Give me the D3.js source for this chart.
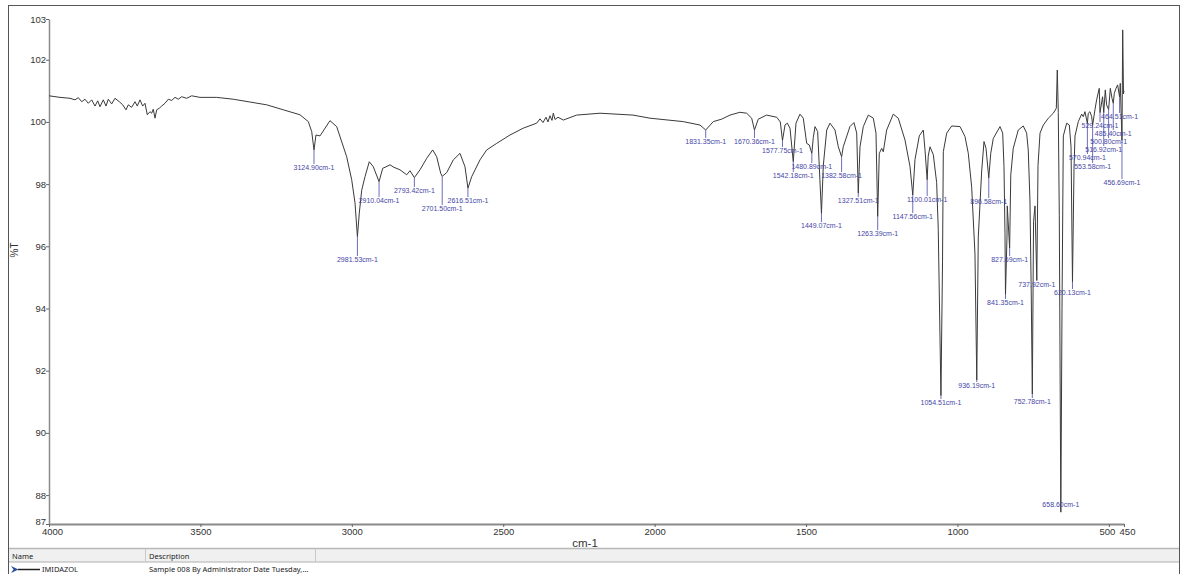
<!DOCTYPE html>
<html><head><meta charset="utf-8">
<script src="https://cdn.jsdelivr.net/npm/d3@7"></script>
<style>html,body{margin:0;padding:0;background:#fff;} svg{display:block;}</style>
</head><body><svg id="c" width="1182" height="574"></svg>
<script>
// ---------------- DATA ----------------
const specWn = [4000,3963.7,3930.7,3914.2,3903.2,3892,3881.1,3870.2,3859,3848.1,3839.2,3831.6,3820.7,3811.8,3804.2,3793,3782.1,3767.9,3756.6,3745.7,3738.1,3727.1,3716,3708.4,3699.5,3690.6,3683,3675.4,3666.5,3660.9,3655.6,3650,3644.3,3635.8,3627.8,3616.9,3606,3594.8,3583.9,3573,3561.8,3545.3,3528.8,3501.4,3446.2,3391.4,3336.3,3281.1,3226.3,3171.2,3143.7,3132.5,
3118.3,3105.1,3072.1,3050,3016.9,3000.4,2989.5,2975.3,2967.4,2956.5,2942.3,2929.1,2898,2890.4,2873.9,2860.7,2840.9,2818.8,2807.9,2774.8,2752.7,2732.9,2719.7,2706.5,2686.7,2664.9,2642.8,2626.3,2604.1,2576.7,2554.6,2521.6,2477.6,2433.7,2389.5,2378.6,2368.7,2358.8,2352.2,2345.6,2339,2334.6,2329,2319.1,2301.6,2257.4,2180.4,2071.5,2015.3,1905.4,1850.2,
1806.3,1778.6,1751.2,1718.2,1696,1679.5,1657.7,1629.9,1596.9,1585,1569.5,1561.9,1553,1533.2,1520,1509.1,1497.9,1489.3,1476,1470.4,1461.6,1443,1431.7,1420.9,1404.4,1393.4,1377.1,1355,1341.8,1332.7,1321.8,1310.9,1294.4,1277.9,1269,1258.1,1250.2,1244.9,1233.7,1211.9,1195.4,1173.3,1156.8,1140.2,1126,1112.8,1107.2,1096.5,1090.7,1079.8,1068.7,1063.4,
1049.3,1046.7,1035.5,1019,991.6,975.1,964.2,953,942.1,931.2,920,912.3,905.7,890,881.6,859.5,850.6,846.3,843,836.4,835.5,823.9,815.7,799.2,782.7,771.5,766.2,760.6,756.3,748.7,743.9,734,727.3,716.4,699.9,683.4,673.5,670.3,667,663.7,654.7,650.4,639.2,630.5,624.9,615.1,611.8,600.9,589.8,584.5,578.9,568,562.4,556.8,546,540.4,531.8,520.7,511.8,507.5,495.2,489.6,482,476.4,471.1,462.3,454.3,451.7,450];
const specT = [100.84,100.79,100.76,100.71,100.78,100.65,100.73,100.6,100.71,100.51,100.68,100.49,100.71,100.51,100.73,100.58,100.76,100.65,100.55,100.39,100.55,100.47,100.65,100.51,100.71,100.51,100.6,100.23,100.33,100.28,100.41,100.12,100.39,100.44,100.51,100.6,100.73,100.69,100.79,100.73,100.81,100.76,100.84,100.79,100.79,100.73,100.64,100.55,100.39,100.23,100.01,99.69,
99.58,99.55,100.04,99.85,98.88,98.14,97.4,97.07,97.8,98.24,98.72,98.56,98.51,98.54,98.62,98.54,98.46,98.3,98.43,98.46,98.83,99.1,98.88,98.35,98.37,98.78,98.99,98.56,98.24,98.78,99.1,99.31,99.58,99.8,99.96,100.1,99.98,100.15,100.0,100.2,100.05,100.28,100.08,100.15,100.06,100.22,100.28,100.22,100.12,100.01,99.9,
100.01,100.09,100.22,100.31,100.28,100.12,100.09,100.22,100.15,100.0,99.9,99.96,99.8,99.96,100.25,100.12,99.31,99.26,99.5,99.85,99.69,98.6,99.74,99.96,99.74,99.2,99.2,99.85,99.98,99.64,99.2,99.85,100.22,100.12,99.64,98.99,99.15,99.04,99.74,100.25,100.12,99.42,98.57,98.79,99.55,99.74,99.1,98.9,99.2,98.95,98.05,96.55,
95.5,99.04,99.64,99.87,99.85,99.53,98.99,97.9,95.75,96.3,98.42,99.37,99.15,98.99,99.47,99.85,99.64,98.57,96.42,96.3,97.3,98.3,99.15,99.74,99.87,99.64,99.1,97.49,94.5,96.8,97.3,98.6,99.64,99.9,100.12,100.28,100.44,101.67,100.3,97,94,99.55,99.96,99.9,99.2,98.5,99.55,100.01,100.25,100.17,100.33,100.28,100.33,100.17,100.39,100.71,101.08,100.81,101.03,100.55,101.08,100.76,100.92,101.08,101.19,101.24,102.96,100.9,101.0];

const peakWn = [3124.90,2981.53,2910.04,2793.42,2701.50,2616.51,1831.35,1670.36,1577.75,1542.18,1480.89,1449.07,1382.58,1327.51,1263.39,1147.56,1100.01,1054.51,936.19,896.58,841.35,827.69,752.78,737.92,658.60,620.13,570.94,553.58,529.24,516.92,500.80,485.40,464.51,456.69];
const peakT  = [99.1,96.31,98.08,98.21,98.25,97.87,99.74,99.74,99.4,98.72,98.99,97.06,98.88,97.71,96.96,97.65,98.14,91.2,91.7,98.2,94.45,95.95,91.25,94.9,87.45,94.86,99.95,99.9,100.3,100.3,100.4,100.6,100.8,99.4];

const xDomain = [4000, 450];
const yDomain = [87.07, 103.31];
const xTicks = [4000,3500,3000,2500,2000,1500,1000,500,450];
const yTicks = [88,90,92,94,96,98,100,102];
const xTitle = "cm-1";
const yTitle = "%T";
const legendHeaders = ["Name","Description"];
const legendName = "IMIDAZOL";
const legendDesc = "Sample 008 By Administrator Date Tuesday,...";

// ---------------- LAYOUT ----------------
const plot = {left:49, right:1124, top:19, bottom:524};
const labelY = [168,260,201,191,209,201,142,142,151,176,167,226,176,201,234,217,200,403,386,202,303,260,402,285,505,293,158,167,126,150,142,134,117,183];
const labelColor = "#4646a6";

const svg = d3.select("#c");
const x = d3.scaleLinear().domain(xDomain).range([plot.left, plot.right]);
const y = d3.scaleLinear().domain(yDomain).range([plot.bottom, plot.top]);

// outer frame
svg.append("rect").attr("x",8.5).attr("y",5.5).attr("width",1171).attr("height",600)
  .attr("fill","none").attr("stroke","#555").attr("stroke-width",1);

// axes
const fontAx = "'Liberation Sans', Arial, sans-serif";
const gx = svg.append("g").attr("transform",`translate(0,${plot.bottom})`)
  .call(d3.axisBottom(x).tickValues(xTicks).tickSizeInner(3).tickSizeOuter(0).tickFormat(d3.format("d")));
const yTickAll = [yDomain[0]].concat(yTicks, [yDomain[1]]);
const gy = svg.append("g").attr("transform",`translate(${plot.left},0)`)
  .call(d3.axisLeft(y).tickValues(yTickAll).tickSizeInner(3).tickSizeOuter(0).tickFormat(d3.format(".0f")));
[gx,gy].forEach(g=>{
  g.selectAll("text").attr("font-family",fontAx).attr("font-size","9.5px").attr("fill","#333");
  g.selectAll(".tick line").attr("stroke","#666");
});
gx.select(".domain").attr("stroke","#8a8a8a").attr("stroke-width",2);
gy.select(".domain").attr("stroke","#8a8a8a").attr("stroke-width",1.5);
gx.selectAll("text").attr("dy","0.5em")
  .attr("dx", d => d === xDomain[0] ? 3 : d === 500 ? -2 : d === 450 ? 3 : 0);
gy.selectAll("text").attr("x",-3)
  .attr("dy", d => d === yDomain[0] ? "0.05em" : "0.32em");

svg.append("text").attr("x",585).attr("y",547).attr("text-anchor","middle")
  .attr("font-family",fontAx).attr("font-size","11.5px").attr("fill","#333").text(xTitle);
svg.append("text").attr("transform","translate(18,250) rotate(-90)").attr("text-anchor","middle")
  .attr("font-family",fontAx).attr("font-size","10px").attr("fill","#333").text(yTitle);

// spectrum
const pts = specWn.map((w,i)=>({wn:w,t:specT[i]}))
  .concat(peakWn.map((w,i)=>({wn:w,t:peakT[i]})))
  .sort((a,b)=>b.wn-a.wn);
svg.append("path").datum(pts)
  .attr("d", d3.line().x(d=>x(d.wn)).y(d=>y(d.t)))
  .attr("fill","none").attr("stroke","#3a3a3a").attr("stroke-width",1).attr("stroke-linejoin","round");

// peak labels
const pk = svg.append("g");
peakWn.forEach((w,i)=>{
  const px = x(w), py = y(peakT[i]), ly = labelY[i];
  if (ly - 5 > py) {
    pk.append("line").attr("x1",px).attr("x2",px).attr("y1",py).attr("y2",ly-4)
      .attr("stroke",labelColor).attr("stroke-width",0.8);
  }
  pk.append("text").attr("x",px).attr("y",ly).attr("dy","0.35em").attr("text-anchor","middle")
    .attr("font-family",fontAx).attr("font-size","7px").attr("fill",labelColor)
    .text(w.toFixed(2)+"cm-1");
});

// legend table
const lg = svg.append("g");
lg.append("rect").attr("x",9).attr("y",548).attr("width",1170).attr("height",14).attr("fill","#f0f0f0");
lg.append("line").attr("x1",9).attr("x2",1179).attr("y1",548.5).attr("y2",548.5).attr("stroke","#b8b8b8").attr("stroke-width",1.5);
lg.append("line").attr("x1",9).attr("x2",1179).attr("y1",562).attr("y2",562).attr("stroke","#b0b0b0").attr("stroke-width",1);
[145,315].forEach(sx=>lg.append("line").attr("x1",sx+0.5).attr("x2",sx+0.5).attr("y1",549).attr("y2",562).attr("stroke","#c8c8c8"));
const fontT = "'Noto Sans', 'Open Sans', sans-serif";
lg.append("text").attr("x",12).attr("y",558.5).attr("font-family",fontT).attr("font-size","7.5px").attr("fill","#222").text(legendHeaders[0]);
lg.append("text").attr("x",149).attr("y",558.5).attr("font-family",fontT).attr("font-size","7.5px").attr("fill","#222").text(legendHeaders[1]);
lg.append("path").attr("d","M11,566 L18.5,569.5 L11,573 L13.5,569.5 Z").attr("fill","#2a4c9c");
lg.append("line").attr("x1",18).attr("x2",40).attr("y1",569.5).attr("y2",569.5).attr("stroke","#222").attr("stroke-width",1.5);
lg.append("text").attr("x",42).attr("y",572).attr("font-family",fontT).attr("font-size","7.5px").attr("fill","#222").text(legendName);
lg.append("text").attr("x",149).attr("y",572).attr("font-family",fontT).attr("font-size","7.5px").attr("fill","#222").text(legendDesc);
</script></body></html>
